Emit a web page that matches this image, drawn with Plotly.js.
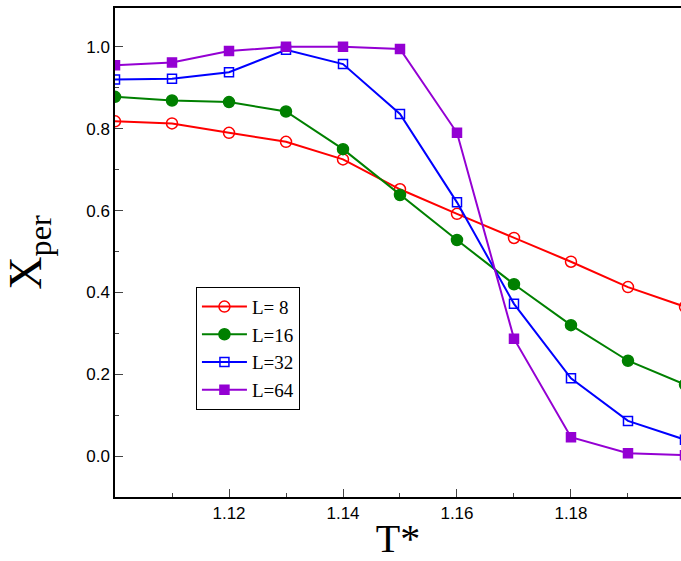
<!DOCTYPE html>
<html><head><meta charset="utf-8">
<script src="https://cdn.plot.ly/plotly-3.0.1.min.js"></script>
<style>body{margin:0}</style></head>
<body><div id="chart" style="width:681px;height:561px"></div>
<script>
const temps = [1.10, 1.11, 1.12, 1.13, 1.14, 1.15, 1.16, 1.17, 1.18, 1.19, 1.20];
const xL8  = [0.818, 0.813, 0.790, 0.768, 0.725, 0.652, 0.592, 0.533, 0.475, 0.413, 0.365];
const xL16 = [0.878, 0.869, 0.865, 0.842, 0.750, 0.638, 0.528, 0.420, 0.320, 0.233, 0.175];
const xL32 = [0.920, 0.922, 0.938, 0.993, 0.958, 0.836, 0.620, 0.372, 0.190, 0.086, 0.040];
const xL64 = [0.955, 0.962, 0.990, 1.000, 1.000, 0.995, 0.790, 0.287, 0.046, 0.007, 0.002];

function series(name, y, color, symbol) {
  return {x: temps, y: y, name: name, type: 'scatter', mode: 'lines+markers',
    line: {color: color, width: 2},
    marker: {color: color, symbol: symbol, size: symbol.indexOf('circle') === 0 ? 11 : 9,
             line: {color: color, width: 1.5}}};
}

const data = [
  series('L= 8', xL8, '#ff0000', 'circle-open'),
  series('L=16', xL16, '#008000', 'circle'),
  series('L=32', xL32, '#0000ff', 'square-open'),
  series('L=64', xL64, '#9400d3', 'square')
];

const tickFont = {family: 'Liberation Sans', size: 17};

const layout = {
  width: 681, height: 561,
  margin: {l: 115, r: 0, t: 8, b: 64},
  font: {family: 'Liberation Serif', color: '#000'},
  showlegend: true,
  legend: {x: 0.143, y: 0.43, xanchor: 'left', yanchor: 'top',
    bordercolor: '#000', borderwidth: 1, bgcolor: '#fff',
    font: {size: 19}, itemwidth: 45, tracegroupgap: 0},
  xaxis: {range: [1.10, 1.1993], tickvals: [1.12, 1.14, 1.16, 1.18],
    ticktext: ['1.12', '1.14', '1.16', '1.18'],
    showgrid: false, zeroline: false, showline: true, linecolor: '#000', linewidth: 1.5,
    mirror: true, ticks: 'inside', ticklen: 8, tickfont: tickFont,
    minor: {dtick: 0.01, ticks: 'inside', ticklen: 4},
    title: {text: 'T*', font: {size: 40}, standoff: 6}},
  yaxis: {range: [-0.1, 1.095], tickvals: [0, 0.2, 0.4, 0.6, 0.8, 1.0],
    ticktext: ['0.0', '0.2', '0.4', '0.6', '0.8', '1.0'],
    showgrid: false, zeroline: false, showline: true, linecolor: '#000', linewidth: 1.5,
    mirror: true, ticks: 'inside', ticklen: 8, tickfont: tickFont,
    minor: {dtick: 0.1, ticks: 'inside', ticklen: 4},
    title: {text: 'X<sub>per</sub>', font: {size: 46}, standoff: 30}},
  plot_bgcolor: '#fff', paper_bgcolor: '#fff'
};

Plotly.newPlot('chart', data, layout, {displayModeBar: false});
</script></body></html>
